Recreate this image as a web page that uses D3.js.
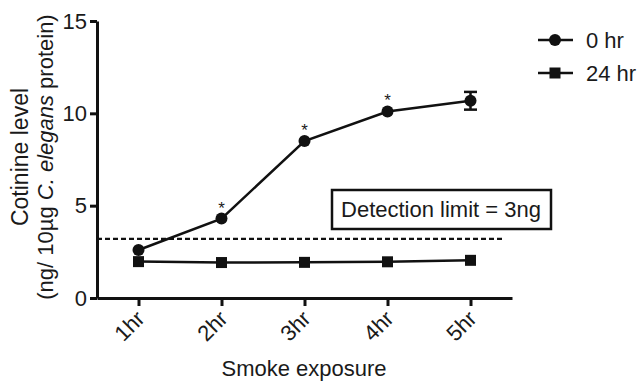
<!DOCTYPE html>
<html lang="en">
  <head>
    <meta charset="UTF-8" />
    <title>Cotinine level</title>
    <style>
      body { margin: 0; background: #fff; }
      text { font-family: "Liberation Sans", Arial, sans-serif; fill: #1a1a1a; }
    </style>
  </head>
  <body>
    <svg id="svg" width="642" height="383"></svg>

    <script src="https://cdn.jsdelivr.net/npm/d3@7"></script>
    <script>
      // data
      const hours = [1, 2, 3, 4, 5];
      const hourLabels = ["1hr", "2hr", "3hr", "4hr", "5hr"];
      const zeroHr = [2.6, 4.3, 8.5, 10.1, 10.68];
      const zeroHrErr = [0, 0, 0, 0, 0.48];
      const day = [1.97, 1.92, 1.93, 1.96, 2.04];
      const starred = [false, true, true, true, false];
      const yTicks = [0, 5, 10, 15];
      const detectionLine = 3.2;

      const INK = "#111";
      const svg = d3.select("#svg");

      const x = d3.scaleLinear().domain([0.5, 5.5]).range([97, 512]);
      const y = d3.scaleLinear().domain([0, 15]).range([298, 21]);

      // axes
      const yAxis = svg
        .append("g")
        .attr("transform", "translate(97,0)")
        .call(d3.axisLeft(y).tickValues(yTicks).tickSize(7).tickSizeOuter(0).tickPadding(3));
      const xAxis = svg
        .append("g")
        .attr("transform", "translate(0,298)")
        .call(
          d3.axisBottom(x)
            .tickValues(hours)
            .tickFormat((d, i) => hourLabels[i])
            .tickSize(8)
            .tickSizeOuter(0)
        );
      [yAxis, xAxis].forEach((g) => {
        g.select(".domain").attr("stroke", INK).attr("stroke-width", 3);
        g.selectAll(".tick line").attr("stroke", INK).attr("stroke-width", 3);
        g.selectAll(".tick text")
          .attr("font-size", 22)
          .attr("font-family", "Liberation Sans, Arial, sans-serif")
          .attr("fill", "#1a1a1a");
      });
      xAxis
        .selectAll(".tick text")
        .attr("text-anchor", "end")
        .attr("x", 0)
        .attr("y", 0)
        .attr("dy", 0)
        .attr("transform", "translate(7,22) rotate(-45)");

      // axis titles
      svg
        .append("text")
        .attr("x", 304)
        .attr("y", 376)
        .attr("text-anchor", "middle")
        .attr("font-size", 22)
        .text("Smoke exposure");
      const yTitle = svg
        .append("text")
        .attr("transform", "translate(0,157) rotate(-90)")
        .attr("text-anchor", "middle")
        .attr("font-size", 22);
      yTitle.append("tspan").attr("x", 0).attr("y", 28).attr("font-size", 23).text("Cotinine level");
      const l2 = yTitle.append("tspan").attr("x", 0).attr("y", 53);
      l2.append("tspan").text("(ng/ 10µg ");
      l2.append("tspan").attr("font-style", "italic").text("C. elegans");
      l2.append("tspan").text(" protein)");

      // detection limit
      svg
        .append("line")
        .attr("x1", x(0.5))
        .attr("x2", 502)
        .attr("y1", y(detectionLine))
        .attr("y2", y(detectionLine))
        .attr("stroke", INK)
        .attr("stroke-width", 2.2)
        .attr("stroke-dasharray", "5,3");
      svg
        .append("rect")
        .attr("x", 332)
        .attr("y", 190)
        .attr("width", 219)
        .attr("height", 39)
        .attr("fill", "#fff")
        .attr("stroke", INK)
        .attr("stroke-width", 2.5);
      svg
        .append("text")
        .attr("x", 441)
        .attr("y", 217)
        .attr("text-anchor", "middle")
        .attr("font-size", 22)
        .text("Detection limit = 3ng");

      const line = d3.line().x((d, i) => x(hours[i])).y((d) => y(d));

      // 24 hr series
      svg
        .append("path")
        .attr("d", line(day))
        .attr("fill", "none")
        .attr("stroke", INK)
        .attr("stroke-width", 2.5);
      svg
        .selectAll(".sq")
        .data(day)
        .enter()
        .append("rect")
        .attr("x", (d, i) => x(hours[i]) - 5.5)
        .attr("y", (d) => y(d) - 5.5)
        .attr("width", 11)
        .attr("height", 11)
        .attr("fill", INK);

      // 0 hr series
      svg
        .append("path")
        .attr("d", line(zeroHr))
        .attr("fill", "none")
        .attr("stroke", INK)
        .attr("stroke-width", 2.5);
      const errs = svg.append("g").attr("stroke", INK).attr("stroke-width", 2.5);
      zeroHr.forEach((v, i) => {
        if (!zeroHrErr[i]) return;
        const cx = x(hours[i]);
        const top = y(v + zeroHrErr[i]);
        const bot = y(v - zeroHrErr[i]);
        errs.append("line").attr("x1", cx).attr("x2", cx).attr("y1", top).attr("y2", bot);
        errs.append("line").attr("x1", cx - 6.5).attr("x2", cx + 6.5).attr("y1", top).attr("y2", top);
        errs.append("line").attr("x1", cx - 6.5).attr("x2", cx + 6.5).attr("y1", bot).attr("y2", bot);
      });
      svg
        .selectAll(".dot")
        .data(zeroHr)
        .enter()
        .append("circle")
        .attr("cx", (d, i) => x(hours[i]))
        .attr("cy", (d) => y(d))
        .attr("r", 6)
        .attr("fill", INK);
      svg
        .selectAll(".star")
        .data(hours.filter((h, i) => starred[i]))
        .enter()
        .append("text")
        .attr("x", (h) => x(h))
        .attr("y", (h) => y(zeroHr[hours.indexOf(h)]) - 5)
        .attr("text-anchor", "middle")
        .attr("font-size", 17)
        .text("*");

      // legend
      const legend = svg.append("g").attr("transform", "translate(538,40)");
      [
        { label: "0 hr", shape: "circle" },
        { label: "24 hr", shape: "square" },
      ].forEach((d, i) => {
        const g = legend.append("g").attr("transform", `translate(0,${i * 33})`);
        g.append("line").attr("x1", 0).attr("x2", 35).attr("stroke", INK).attr("stroke-width", 2.5);
        if (d.shape === "circle") g.append("circle").attr("cx", 17).attr("r", 6).attr("fill", INK);
        else g.append("rect").attr("x", 11.5).attr("y", -5.5).attr("width", 11).attr("height", 11).attr("fill", INK);
        g.append("text").attr("x", 48).attr("y", 8).attr("font-size", 22).text(d.label);
      });
    </script>
  </body>
</html>
